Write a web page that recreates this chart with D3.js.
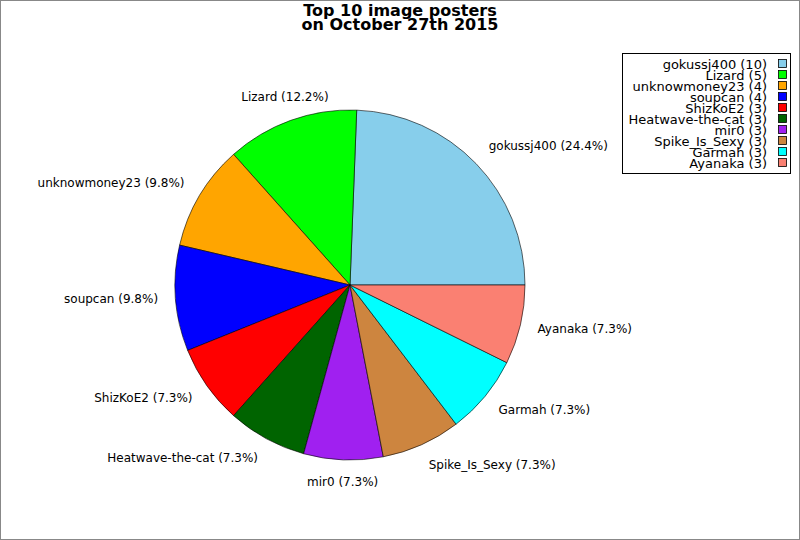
<!DOCTYPE html>
<html>
<head>
<meta charset="utf-8">
<script src="https://cdn.jsdelivr.net/npm/d3@7"></script>
<style>
  body { margin: 0; background: #fff; }
  svg { display: block; font-family: "DejaVu Sans", sans-serif; }
</style>
</head>
<body>
<div id="chart"></div>
<script>
//Chart data
var names = ["gokussj400", "Lizard", "unknowmoney23", "soupcan", "ShizKoE2", "Heatwave-the-cat", "mir0", "Spike_Is_Sexy", "Garmah", "Ayanaka"];
var counts = [10, 5, 4, 4, 3, 3, 3, 3, 3, 3];
var colors = ["#87CEEB", "#00FF00", "#FFA500", "#0000FF", "#FF0000", "#006400", "#A020F0", "#CD853F", "#00FFFF", "#FA8072"];

var width = 800, height = 540;
var cx = 350, cy = 285, radius = 175;

var total = d3.sum(counts);
var rows = names.map(function(n, i) {
    return {name: n, count: counts[i], color: colors[i]};
});

var svg = d3.select("#chart")
    .append("svg")
    .attr("width", width)
    .attr("height", height);

//Frame
svg.append("rect")
    .attr("x", 0.5)
    .attr("y", 0.5)
    .attr("width", width - 1)
    .attr("height", height - 1)
    .style("fill", "#fff")
    .style("stroke", "#888");

//Title
var title = svg.append("text")
    .attr("x", 400)
    .attr("text-anchor", "middle")
    .style("font-weight", "bold")
    .style("font-size", "16px");
title.append("tspan").attr("x", 400).attr("y", 16).text("Top 10 image posters");
title.append("tspan").attr("x", 400).attr("y", 29.5).text("on October 27th 2015");

//Pie starts at 3 o'clock and runs counterclockwise
var pie = d3.pie()
    .value(d => d.count)
    .sort(null)
    .startAngle(Math.PI / 2)
    .endAngle(Math.PI / 2 - 2 * Math.PI);

var arc = d3.arc()
    .innerRadius(0)
    .outerRadius(radius);

var g = svg.append("g")
    .attr("transform", "translate(" + cx + "," + cy + ")");

var slices = pie(rows);

g.selectAll("path")
    .data(slices)
    .enter()
    .append("path")
    .attr("d", arc)
    .style("fill", d => d.data.color)
    .style("stroke", "#000")
    .style("stroke-width", 0.6);

//Labels just outside the pie, centred when near the vertical
var labelRx = radius * 1.1;
var labelRy = radius * 1.135;
g.selectAll("text.lbl")
    .data(slices)
    .enter()
    .append("text")
    .classed("lbl", true)
    .each(function(d) {
        var a = (d.startAngle + d.endAngle) / 2;
        var x = labelRx * Math.sin(a);
        var y = -labelRy * Math.cos(a);
        var anchor = Math.abs(Math.sin(a)) < 0.375 ? "middle" : (x > 0 ? "start" : "end");
        d3.select(this)
            .attr("x", x)
            .attr("y", y - 1)
            .attr("text-anchor", anchor)
            .attr("dominant-baseline", "central");
    })
    .style("font-size", "12px")
    .text(d => d.data.name + " (" + (d.data.count / total * 100).toFixed(1) + "%)");

//Legend
var legend = svg.append("g");
legend.append("rect")
    .attr("x", 622.5)
    .attr("y", 53.5)
    .attr("width", 168)
    .attr("height", 120)
    .style("fill", "#fff")
    .style("stroke", "#000");

var ly = d3.scaleLinear()
    .domain([0, rows.length - 1])
    .range([64, 163]);

var items = legend.selectAll("g.item")
    .data(rows)
    .enter()
    .append("g")
    .classed("item", true)
    .attr("transform", (d, i) => "translate(0," + ly(i) + ")");

items.append("text")
    .attr("x", 767)
    .attr("y", 0)
    .attr("text-anchor", "end")
    .attr("dominant-baseline", "central")
    .style("font-size", "13px")
    .text(d => d.name + " (" + d.count + ")");

items.append("rect")
    .attr("x", 778.5)
    .attr("y", -4.5)
    .attr("width", 8)
    .attr("height", 8)
    .style("fill", d => d.color)
    .style("stroke", "#000")
    .style("stroke-width", 0.8);
</script>
</body>
</html>
